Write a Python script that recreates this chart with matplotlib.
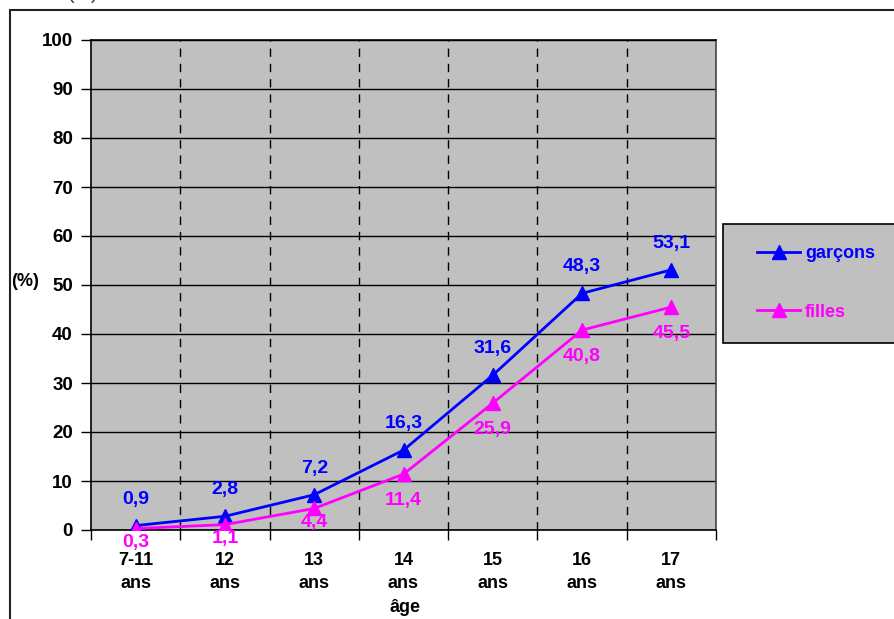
import matplotlib.pyplot as plt
from matplotlib.patches import Rectangle

plt.rcParams['font.family'] = ['Liberation Sans', 'DejaVu Sans']
plt.rcParams['font.weight'] = 'bold'

ages = ['7-11\nans', '12\nans', '13\nans', '14\nans', '15\nans', '16\nans', '17\nans']
garcons = [0.9, 2.8, 7.2, 16.3, 31.6, 48.3, 53.1]
filles = [0.3, 1.1, 4.4, 11.4, 25.9, 40.8, 45.5]

W, H = 894, 619
fig = plt.figure(figsize=(W / 100, H / 100), dpi=100)

# chart area border (left and top edges only visible)
fig.add_artist(Rectangle((10 / W, -0.2), 2.0, 1.2 - 10 / H, transform=fig.transFigure,
                         fill=False, edgecolor='#222222', linewidth=1.5, clip_on=False))
# leftover from the title above, cut off by the top edge
fig.text(83 / W, 1 + 5 / H, '(%)', ha='center', va='center', fontsize=14,
         fontweight='normal', color='#333333')

ax = fig.add_axes([91 / W, 1 - 530 / H, (716 - 91) / W, (530 - 40) / H])
ax.set_facecolor('#c0c0c0')

x = list(range(len(ages)))
ax.plot(x, garcons, color='#0000ff', lw=2, marker='^', ms=10, label='garçons', zorder=4)
ax.plot(x, filles, color='#ff00ff', lw=2, marker='^', ms=10, label='filles', zorder=4)

for xi, v in zip(x, garcons):
    ax.annotate(f'{v:.1f}'.replace('.', ','), (xi, v), xytext=(0, 19),
                textcoords='offset points', ha='center', va='center',
                color='#0000ff', fontsize=14, fontweight='bold', annotation_clip=False)
for xi, v in zip(x, filles):
    off = -19 if v > 5 else -10
    ax.annotate(f'{v:.1f}'.replace('.', ','), (xi, v), xytext=(0, off),
                textcoords='offset points', ha='center', va='center',
                color='#ff00ff', fontsize=14, fontweight='bold', annotation_clip=False)

ax.set_xlim(-0.5, len(ages) - 0.5)
ax.set_ylim(0, 100)
ax.set_yticks(range(0, 101, 10))
ax.yaxis.grid(True, color='black', lw=1)
ax.set_axisbelow(True)

# category boundaries: dashed verticals and outside tick marks
bounds = [i + 0.5 for i in range(len(ages) - 1)]
for b in bounds:
    ax.axvline(b, color='black', lw=1, ls=(0, (6, 5)), zorder=1)
ax.set_xticks([-0.5] + bounds + [len(ages) - 0.5])
ax.set_xticklabels([])
ax.set_xticks(x, minor=True)
ax.set_xticklabels(ages, minor=True, fontsize=13, fontweight='bold', linespacing=1.45)
ax.tick_params(axis='x', which='minor', length=0, pad=16)
ax.tick_params(axis='x', which='major', direction='out', length=7, width=1)
ax.tick_params(axis='y', direction='out', length=7, width=1, labelsize=13.5, pad=6)
for lab in ax.get_yticklabels():
    lab.set_fontweight('bold')

for s in ax.spines.values():
    s.set_linewidth(1.2)
ax.spines['right'].set_color('#444444')

fig.text(25 / W, 1 - 282 / H, '(%)', ha='center', va='center', fontsize=13, fontweight='bold')
fig.text(405 / W, 1 - 608 / H, 'âge', ha='center', va='center', fontsize=13, fontweight='bold')

# legend box, running past the right edge
fig.add_artist(Rectangle((723 / W, 1 - 343 / H), 0.3, (343 - 224) / H,
                         transform=fig.transFigure, facecolor='#c0c0c0',
                         edgecolor='black', linewidth=1.2, clip_on=False, zorder=0))
leg = ax.legend(loc='upper left', bbox_to_anchor=(757 / W, 1 - 245 / H),
                bbox_transform=fig.transFigure, frameon=False, borderpad=0,
                labelspacing=2.3, handlelength=2.4, handletextpad=0.25,
                borderaxespad=0, prop={'size': 13, 'weight': 'bold'})
for t, c in zip(leg.get_texts(), ['#0000ff', '#ff00ff']):
    t.set_color(c)

fig.savefig('out.png', dpi=100)
